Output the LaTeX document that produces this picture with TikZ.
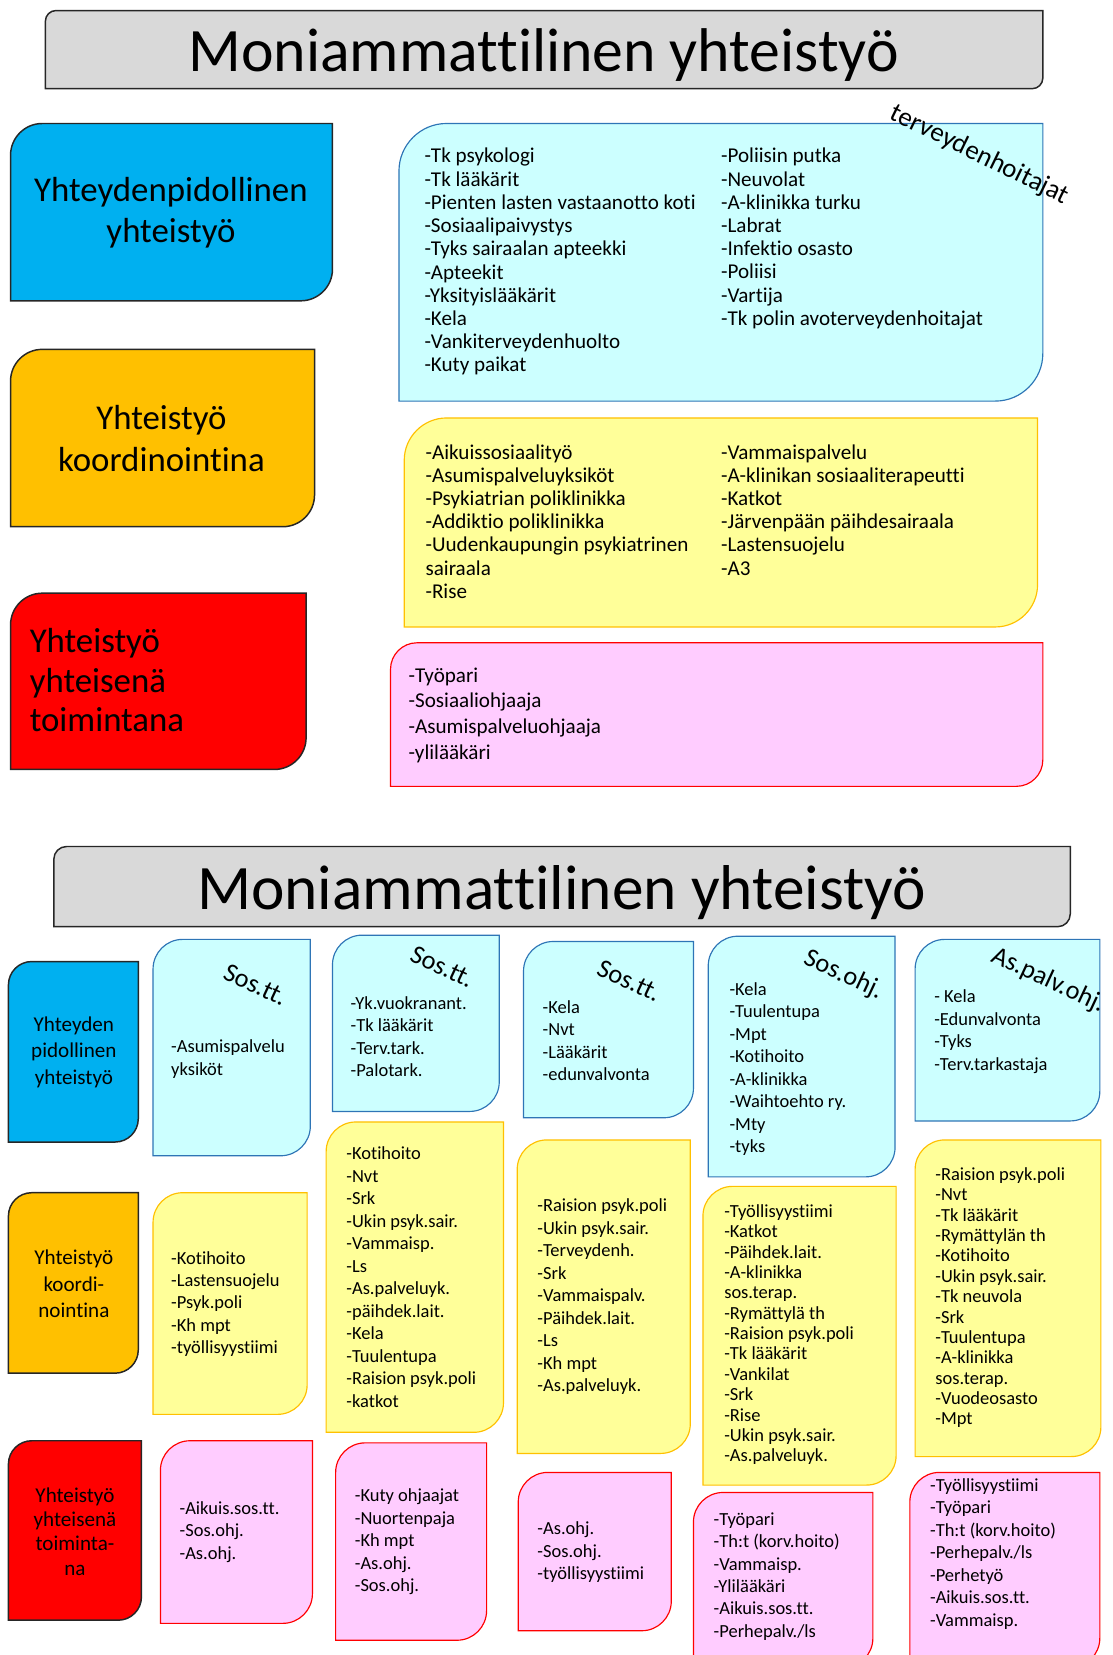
\documentclass[tikz,border=0pt]{standalone}
\usepackage{fontspec}
\setmainfont{Carlito}[Ligatures=NoCommon]
\usepackage{tikz}

\definecolor{titlegray}{HTML}{D9D9D9}
\definecolor{catblue}{HTML}{00B0F0}
\definecolor{catorange}{HTML}{FFC000}
\definecolor{catred}{HTML}{FF0000}
\definecolor{cyanfill}{HTML}{CCFFFF}
\definecolor{cyanline}{HTML}{2E75B6}
\definecolor{yellowfill}{HTML}{FFFF99}
\definecolor{yellowline}{HTML}{FFC000}
\definecolor{pinkfill}{HTML}{FFCCFF}
\definecolor{pinkline}{HTML}{FF0000}

% card: round top-left and bottom-right corners
% #1 name, #2 style, #3 radius, #4 #5 top left, #6 #7 bottom right
\newcommand{\diagcard}[7]{%
  \filldraw[#2] (#4,#7) -- (#4,{#5+#3})
    .. controls (#4,{#5+0.45*#3}) and ({#4+0.45*#3},#5) .. ({#4+#3},#5)
    -- (#6,#5) -- (#6,{#7-#3})
    .. controls (#6,{#7-0.45*#3}) and ({#6-0.45*#3},#7) .. ({#6-#3},#7)
    -- cycle;
  \coordinate (#1) at ({(#4+#6)/2},{(#5+#7)/2});
}

\begin{document}
\begin{tikzpicture}[
    x=1pt, y=-1pt,
    headbox/.style={draw=black!85, fill=titlegray, line width=1.4pt},
    catbox/.style={draw=black!85, line width=1.4pt},
    cyancard/.style={draw=cyanline, fill=cyanfill, line width=1.1pt},
    yellowcard/.style={draw=yellowline, fill=yellowfill, line width=1.1pt},
    pinkcard/.style={draw=pinkline, fill=pinkfill, line width=1.1pt},
    head/.style={anchor=base, inner sep=0pt},
    bigcat/.style={font=\fontsize{33}{39}\selectfont, align=center, inner sep=0pt},
    smallcat/.style={font=\fontsize{20}{25}\selectfont, align=center, inner sep=0pt},
    biglist/.style={font=\fontsize{20}{22}\selectfont, align=left, anchor=west, inner sep=0pt},
    list/.style={font=\fontsize{17.5}{21.3}\selectfont, align=left, anchor=west, inner sep=0pt},
    tightlist/.style={font=\fontsize{17.5}{19.3}\selectfont, align=left, anchor=west, inner sep=0pt},
    tag/.style={font=\fontsize{25}{25}\selectfont, rotate=-25, inner sep=0pt}
]
    \clip (0,0) rectangle (1054,1568);

    % ---------- upper slide ----------
    \diagcard{headA}{headbox}{10}{43}{10}{988}{84}
    \node[head, font=\fontsize{58.5}{60}\selectfont] (titleA) at (515,68) {Moniammattilinen yhteistyö};

    \diagcard{catA1}{catbox, fill=catblue}{30}{10}{117}{315}{285}
    \diagcard{catA2}{catbox, fill=catorange}{30}{10}{331}{298}{499}
    \diagcard{catA3}{catbox, fill=catred}{30}{10}{562}{290}{729}
    \node[bigcat] (catA1text) at (162,201.5) {Yhteydenpidollinen\\yhteistyö};
    \node[bigcat] (catA2text) at (153,415.5) {Yhteistyö\\koordinointina};
    \node[bigcat, font=\fontsize{33}{37.5}\selectfont, align=left, anchor=west] (catA3text) at (28,644.5) {Yhteistyö\\yhteisenä\\toimintana};

    \diagcard{listA1}{cyancard}{45}{378}{117}{988}{380}
    \diagcard{listA2}{yellowcard}{40}{383}{396}{983}{594}
    \diagcard{listA3}{pinkcard}{25}{370}{609}{988}{745}

    \node[biglist] (listA1a) at (402,248) {-Tk psykologi\\-Tk lääkärit\\-Pienten lasten vastaanotto koti\\-Sosiaalipaivystys\\-Tyks sairaalan apteekki\\-Apteekit\\-Yksityislääkärit\\-Kela\\-Vankiterveydenhuolto\\-Kuty paikat};
    \node[biglist] (listA1b) at (683,226) {-Poliisin putka\\-Neuvolat\\-A-klinikka turku\\-Labrat\\-Infektio osasto\\-Poliisi\\-Vartija\\-Tk polin avoterveydenhoitajat};
    \node[tag, font=\fontsize{25.5}{25.5}\selectfont, rotate=-1] (tagA) at (928,147) {terveydenhoitajat};

    \node[biglist] (listA2a) at (403,494) {-Aikuissosiaalityö\\-Asumispalveluyksiköt\\-Psykiatrian poliklinikka\\-Addiktio poliklinikka\\-Uudenkaupungin psykiatrinen\\sairaala\\-Rise};
    \node[biglist] (listA2b) at (683,483) {-Vammaispalvelu\\-A-klinikan sosiaaliterapeutti\\-Katkot\\-Järvenpään päihdesairaala\\-Lastensuojelu\\-A3};

    \node[biglist, font=\fontsize{20}{24.3}\selectfont] (listA3a) at (387,677.5) {-Työpari\\-Sosiaaliohjaaja\\-Asumispalveluohjaaja\\-ylilääkäri};

    % ---------- lower slide ----------
    \diagcard{headB}{headbox}{12}{51}{802}{1014}{878}
    \node[head, font=\fontsize{60}{62}\selectfont] (titleB) at (532,862) {Moniammattilinen yhteistyö};

    \diagcard{catB1}{catbox, fill=catblue}{22}{8}{911}{131}{1082}
    \diagcard{catB2}{catbox, fill=catorange}{22}{8}{1130}{131}{1301}
    \diagcard{catB3}{catbox, fill=catred}{22}{8}{1365}{134}{1535}
    \node[smallcat] (catB1text) at (70,997) {Yhteyden\\pidollinen\\yhteistyö};
    \node[smallcat] (catB2text) at (70,1216.5) {Yhteistyö\\koordi-\\nointina};
    \node[smallcat, font=\fontsize{20}{23}\selectfont] (catB3text) at (71,1451) {Yhteistyö\\yhteisenä\\toiminta-\\na};

    % column 1
    \diagcard{colA1}{cyancard}{28}{145}{890}{294}{1095}
    \diagcard{colA2}{yellowcard}{28}{145}{1130}{291}{1340}
    \diagcard{colA3}{pinkcard}{28}{152}{1365}{296}{1538}
    \node[tag] (tagB1) at (242,933) {Sos.tt.};
    \node[list] (colA1text) at (162,1003.5) {-Asumispalvelu\\yksiköt};
    \node[list] (colA2text) at (162,1235.5) {-Kotihoito\\-Lastensuojelu\\-Psyk.poli\\-Kh mpt\\-työllisyystiimi};
    \node[list] (colA3text) at (170,1451.5) {-Aikuis.sos.tt.\\-Sos.ohj.\\-As.ohj.};

    % column 2
    \diagcard{colB1}{cyancard}{28}{315}{886}{473}{1053}
    \diagcard{colB2}{yellowcard}{28}{309}{1063}{477}{1357}
    \diagcard{colB3}{pinkcard}{28}{318}{1367}{461}{1554}
    \node[tag] (tagB2) at (419,916) {Sos.tt.};
    \node[list] (colB1text) at (332,982) {-Yk.vuokranant.\\-Tk lääkärit\\-Terv.tark.\\-Palotark.};
    \node[list] (colB2text) at (328,1210) {-Kotihoito\\-Nvt\\-Srk\\-Ukin psyk.sair.\\-Vammaisp.\\-Ls\\-As.palveluyk.\\-päihdek.lait.\\-Kela\\-Tuulentupa\\-Raision psyk.poli\\-katkot};
    \node[list] (colB3text) at (336,1461) {-Kuty ohjaajat\\-Nuortenpaja\\-Kh mpt\\-As.ohj.\\-Sos.ohj.};

    % column 3
    \diagcard{colC1}{cyancard}{28}{496}{892}{657}{1059}
    \diagcard{colC2}{yellowcard}{28}{490}{1080}{654}{1377}
    \diagcard{colC3}{pinkcard}{28}{491}{1395}{636}{1545}
    \node[tag] (tagB3) at (596,929) {Sos.tt.};
    \node[list] (colC1text) at (514,986) {-Kela\\-Nvt\\-Lääkärit\\-edunvalvonta};
    \node[list] (colC2text) at (509,1228.5) {-Raision psyk.poli\\-Ukin psyk.sair.\\-Terveydenh.\\-Srk\\-Vammaispalv.\\-Päihdek.lait.\\-Ls\\-Kh mpt\\-As.palveluyk.};
    \node[list] (colC3text) at (509,1470.5) {-As.ohj.\\-Sos.ohj.\\-työllisyystiimi};

    % column 4
    \diagcard{colD1}{cyancard}{28}{671}{887}{848}{1115}
    \diagcard{colD2}{yellowcard}{28}{666}{1124}{849}{1407}
    \diagcard{colD3}{pinkcard}{28}{657}{1414}{827}{1580}
    \node[tag] (tagB4) at (799,924) {Sos.ohj.};
    \node[list] (colD1text) at (691,1013) {-Kela\\-Tuulentupa\\-Mpt\\-Kotihoito\\-A-klinikka\\-Waihtoehto ry.\\-Mty\\-tyks};
    \node[tightlist] (colD2text) at (686,1264.5) {-Työllisyystiimi\\-Katkot\\-Päihdek.lait.\\-A-klinikka\\sos.terap.\\-Rymättylä th\\-Raision psyk.poli\\-Tk lääkärit\\-Vankilat\\-Srk\\-Rise\\-Ukin psyk.sair.\\-As.palveluyk.};
    \node[list] (colD3text) at (676,1493.5) {-Työpari\\-Th:t (korv.hoito)\\-Vammaisp.\\-Ylilääkäri\\-Aikuis.sos.tt.\\-Perhepalv./ls};

    % column 5
    \diagcard{colE1}{cyancard}{28}{867}{890}{1042}{1062}
    \diagcard{colE2}{yellowcard}{28}{867}{1080}{1043}{1380}
    \diagcard{colE3}{pinkcard}{28}{862}{1395}{1042}{1580}
    \node[tag] (tagB5) at (993,929) {As.palv.ohj.};
    \node[list] (colE1text) at (885,977.5) {- Kela\\-Edunvalvonta\\-Tyks\\-Terv.tarkastaja};
    \node[tightlist] (colE2text) at (886,1229.5) {-Raision psyk.poli\\-Nvt\\-Tk lääkärit\\-Rymättylän th\\-Kotihoito\\-Ukin psyk.sair.\\-Tk neuvola\\-Srk\\-Tuulentupa\\-A-klinikka\\sos.terap.\\-Vuodeosasto\\-Mpt};
    \node[list] (colE3text) at (881,1472) {-Työllisyystiimi\\-Työpari\\-Th:t (korv.hoito)\\-Perhepalv./ls\\-Perhetyö\\-Aikuis.sos.tt.\\-Vammaisp.};

\end{tikzpicture}
\end{document}
